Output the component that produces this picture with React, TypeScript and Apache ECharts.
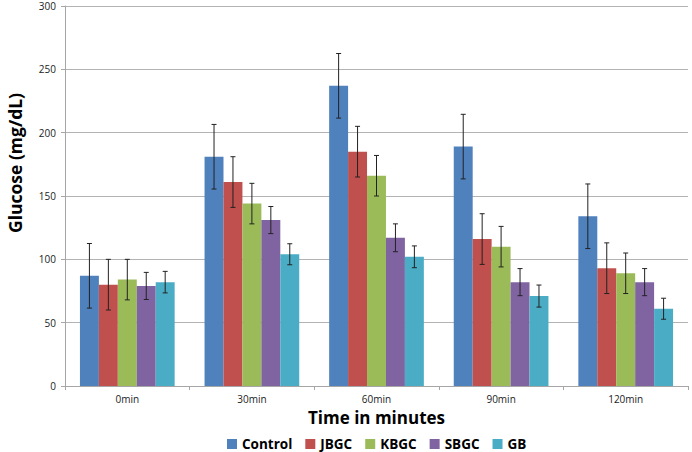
import React, { useEffect, useRef } from "react";
import * as echarts from "echarts";

const categories = ["0min", "30min", "60min", "90min", "120min"];
const seriesNames = ["Control", "JBGC", "KBGC", "SBGC", "GB"];
const colors = ["#4F81BD", "#C0504D", "#9BBB59", "#8064A2", "#4BACC6"];
const yTitle = "Glucose (mg/dL)";
const xTitle = "Time in minutes";

const controlValues = [87, 181, 237, 189, 134];
const jbgcValues = [80, 161, 185, 116, 93];
const kbgcValues = [84, 144, 166, 110, 89];
const sbgcValues = [79, 131, 117, 82, 82];
const gbValues = [82, 104, 102, 71, 61];

const controlErr = [25.5, 25.5, 25.5, 25.5, 25.5];
const jbgcErr = [20, 20, 20, 20, 20];
const kbgcErr = [16, 16, 16, 16, 16];
const sbgcErr = [10.7, 10.7, 11, 10.7, 10.7];
const gbErr = [8.5, 8.3, 8.6, 8.7, 8.3];

const allValues = [controlValues, jbgcValues, kbgcValues, sbgcValues, gbValues];
const allErrs = [controlErr, jbgcErr, kbgcErr, sbgcErr, gbErr];

const CAT_GAP = 0.24;
const FONT = "'Open Sans', 'Liberation Sans', sans-serif";

export default function App() {
  const ref = useRef<HTMLDivElement>(null);
  useEffect(() => {
    if (!ref.current) return;
    const chart = echarts.init(ref.current, null, { renderer: "svg" });
    const n = seriesNames.length;
    const bars = seriesNames.map((name, i) => ({
      name,
      type: "bar",
      data: allValues[i],
      itemStyle: { color: colors[i] },
      barGap: "0%",
      barCategoryGap: CAT_GAP * 100 + "%",
    }));
    const errs = seriesNames.map((name, i) => ({
      name: name + "_err",
      type: "custom",
      z: 5,
      data: allValues[i].map((v, k) => [k, v - allErrs[i][k], v + allErrs[i][k]]),
      renderItem: (params: any, api: any) => {
        const k = api.value(0);
        const lo = api.coord([k, api.value(1)]);
        const hi = api.coord([k, api.value(2)]);
        const band = api.size([1, 0])[0];
        const total = band * (1 - CAT_GAP);
        const bw = total / n;
        const x = lo[0] - total / 2 + (i + 0.5) * bw;
        const cap = 2.5;
        const style = { stroke: "#222", lineWidth: 1 };
        return {
          type: "group",
          children: [
            { type: "line", shape: { x1: x, y1: lo[1], x2: x, y2: hi[1] }, style },
            { type: "line", shape: { x1: x - cap, y1: lo[1], x2: x + cap, y2: lo[1] }, style },
            { type: "line", shape: { x1: x - cap, y1: hi[1], x2: x + cap, y2: hi[1] }, style },
          ],
        };
      },
    }));
    chart.setOption({
      animation: false,
      textStyle: { fontFamily: FONT },
      grid: { left: 65, right: 4, top: 6, bottom: 66 },
      graphic: [
        {
          type: "text",
          x: 15,
          y: 163,
          rotation: Math.PI / 2,
          style: {
            text: yTitle,
            textAlign: "center",
            textVerticalAlign: "middle",
            fontSize: 17.5,
            fontWeight: "bold",
            fontFamily: FONT,
            fill: "#000",
          },
        },
      ],
      legend: {
        data: seriesNames,
        top: 432,
        left: 222,
        icon: "rect",
        itemWidth: 10,
        itemHeight: 10,
        itemGap: 13,
        textStyle: { fontSize: 13.5, fontWeight: "bold", color: "#000", fontFamily: FONT },
      },
      xAxis: {
        type: "category",
        data: categories,
        name: xTitle,
        nameLocation: "middle",
        nameGap: 17,
        nameTextStyle: { fontSize: 17, fontWeight: "bold", color: "#000", fontFamily: FONT },
        axisLine: { lineStyle: { color: "#a6a6a6" } },
        axisTick: { show: true, length: 4, lineStyle: { color: "#a6a6a6" } },
        axisLabel: { fontSize: 10, color: "#222", margin: 8 },
      },
      yAxis: {
        type: "value",
        min: 0,
        max: 300,
        interval: 50,
        axisLine: { show: true, lineStyle: { color: "#a6a6a6" } },
        axisTick: { show: true, length: 4, lineStyle: { color: "#a6a6a6" } },
        axisLabel: { fontSize: 10, color: "#222", margin: 9 },
        splitLine: { lineStyle: { color: "#b3b3b3" } },
      },
      series: [...bars, ...errs],
    });
    return () => chart.dispose();
  }, []);
  return <div ref={ref} style={{ position: "absolute", left: 0, top: 0, width: 692, height: 452 }} />;
}
